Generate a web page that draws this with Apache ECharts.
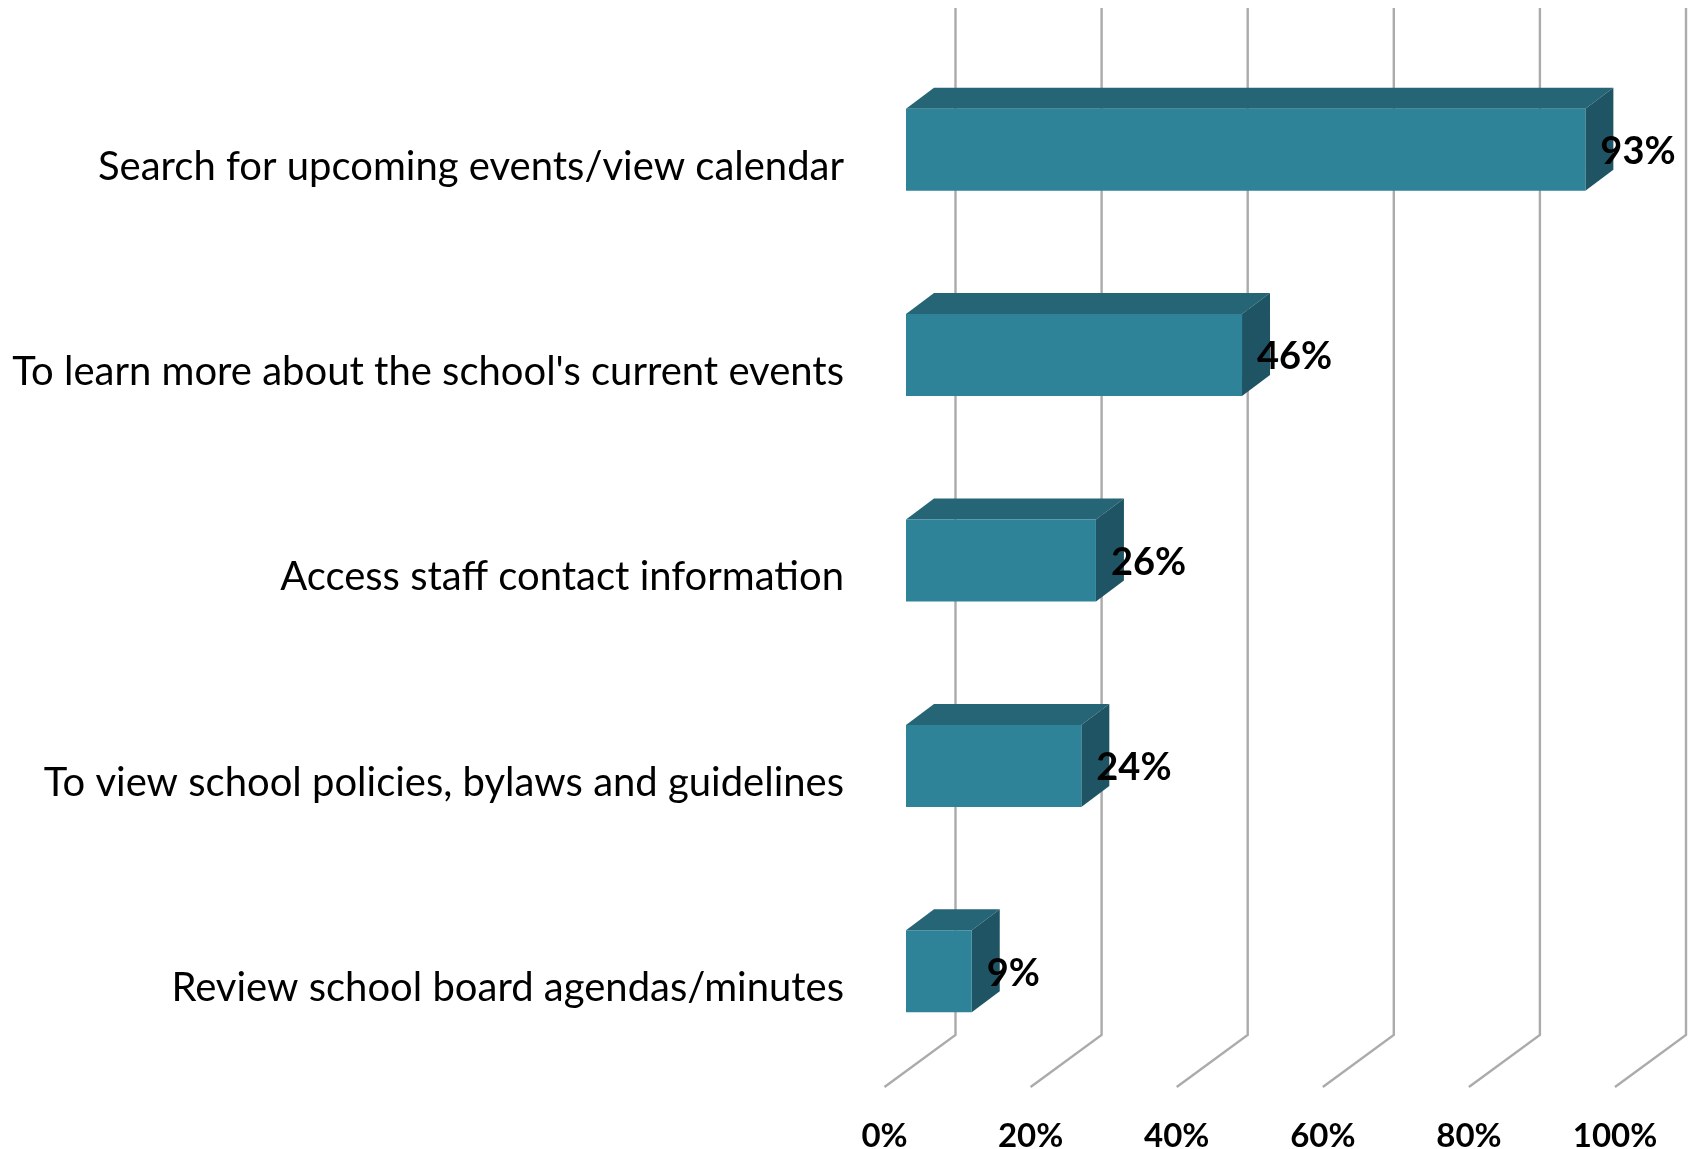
<!DOCTYPE html>
<html>
<head>
<meta charset="utf-8">
<style>
  html, body { margin: 0; background: #fff; }
  #container { width: 1692px; height: 1149px; }
</style>
<script src="https://cdn.jsdelivr.net/npm/echarts@6/dist/echarts.min.js"></script>
</head>
<body>
<div id="container"></div>
<script>
var categories = [
  'Search for upcoming events/view calendar',
  "To learn more about the school's current events",
  'Access staff contact information',
  'To view school policies, bylaws and guidelines',
  'Review school board agendas/minutes'
];
var values = [93, 46, 26, 24, 9];
var xTicks = [0, 20, 40, 60, 80, 100];

var myChart = echarts.init(document.getElementById('container'));
var option;

// fake 3d: how far the back wall sits from the floor's front edge
var wallDx = 71, wallDy = 52;
// the bar's front face inside that depth, and the bar's own depth
var barDx = 21.5, barDy = 13, depthDx = 28, depthDy = 21, barHeight = 82;

function renderWall(params, api) {
  var x = api.coord([api.value(0), 0])[0];
  var sys = params.coordSys;
  var floorY = sys.y + sys.height;
  return {
    type: 'polyline',
    shape: { points: [
      [x, floorY],
      [x + wallDx, floorY - wallDy],
      [x + wallDx, sys.y - wallDy]
    ] },
    style: { fill: null, stroke: '#ababab', lineWidth: 2.4 }
  };
}

function renderBar(params, api) {
  var end = api.coord([api.value(0), api.value(1)]);
  var start = api.coord([0, api.value(1)]);
  var l = start[0] + barDx;
  var r = end[0] + barDx;
  var t = end[1] - barDy - barHeight / 2;
  var b = t + barHeight;
  return {
    type: 'group',
    children: [
      {
        type: 'polygon',
        shape: { points: [[l, t], [l + depthDx, t - depthDy], [r + depthDx, t - depthDy], [r, t]] },
        style: { fill: '#256576' }
      },
      {
        type: 'polygon',
        shape: { points: [[r, t], [r + depthDx, t - depthDy], [r + depthDx, b - depthDy], [r, b]] },
        style: { fill: '#1f5464' }
      },
      {
        type: 'rect',
        shape: { x: l, y: t, width: r - l, height: barHeight },
        style: { fill: '#2e8399' }
      },
      {
        type: 'text',
        x: r + 15,
        y: (t + b) / 2 + 2,
        style: {
          text: api.value(0) + '%',
          fill: '#000',
          font: 'bold 38px Lato',
          align: 'left',
          verticalAlign: 'middle'
        }
      }
    ]
  };
}

option = {
  animation: false,
  backgroundColor: '#fff',
  grid: { left: 884.5, top: 60, width: 730.5, height: 1027, outerBoundsMode: 'none' },
  xAxis: {
    type: 'value',
    min: 0,
    max: 100,
    interval: 20,
    axisLine: { show: false },
    axisTick: { show: false },
    splitLine: { show: false },
    axisLabel: {
      formatter: '{value}%',
      margin: 33,
      color: '#000',
      fontFamily: 'Lato',
      fontWeight: 'bold',
      fontSize: 33
    }
  },
  yAxis: {
    type: 'category',
    inverse: true,
    data: categories,
    axisLine: { show: false },
    axisTick: { show: false },
    axisLabel: {
      margin: 40.5,
      verticalAlign: 'top',
      lineHeight: 8,
      color: '#000',
      fontFamily: 'Lato',
      fontSize: 40
    }
  },
  series: [
    {
      type: 'custom',
      silent: true,
      z: 1,
      renderItem: renderWall,
      encode: { x: 0 },
      data: xTicks.map(function (t) { return [t]; })
    },
    {
      type: 'custom',
      silent: true,
      z: 2,
      renderItem: renderBar,
      encode: { x: 0, y: 1 },
      data: values.map(function (v, i) { return [v, i]; })
    }
  ]
};

option && myChart.setOption(option);
</script>
</body>
</html>
